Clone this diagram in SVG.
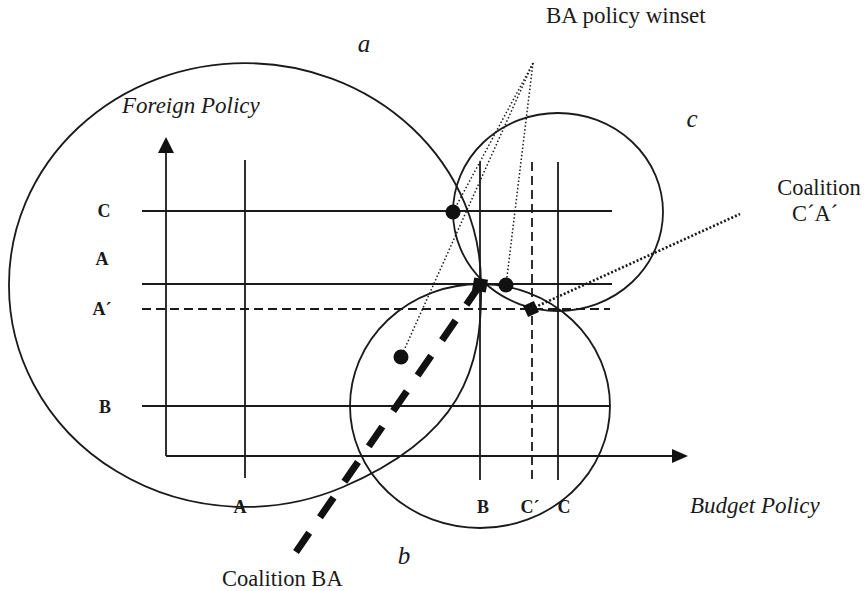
<svg xmlns="http://www.w3.org/2000/svg" width="865" height="591" viewBox="0 0 865 591">
<style>
  .ln { stroke:#1a1a1a; stroke-width:1.8; fill:none; }
  .dsh { stroke:#1a1a1a; stroke-width:1.8; fill:none; stroke-dasharray:9 5; }
  .dot { stroke:#1a1a1a; stroke-width:1.5; fill:none; stroke-dasharray:1.5 2.2; }
  .dotb { stroke:#1a1a1a; stroke-width:2.6; fill:none; stroke-dasharray:2 2; }
  .coal { stroke:#111; stroke-width:7; fill:none; stroke-dasharray:24 19; }
  .pt { fill:#111; }
  text { font-family:"Liberation Serif","Times New Roman",serif; fill:#1a1a1a; }
  .lab { font-size:18px; font-weight:bold; text-anchor:middle; }
  .it { font-style:italic; }
</style>
<rect width="865" height="591" fill="#ffffff"/>

<g id="axes">
  <line class="ln" x1="166" y1="456" x2="166" y2="152"/>
  <polygon class="pt" points="166,137 158,153 174,153"/>
  <line class="ln" x1="166" y1="456" x2="673" y2="456"/>
  <polygon class="pt" points="688,456 672,449 672,463"/>
  <text class="it" x="122" y="113" font-size="23">Foreign Policy</text>
  <text class="it" x="690" y="513" font-size="23">Budget Policy</text>
</g>

<g id="grid">
  <line class="ln" x1="142" y1="211" x2="612" y2="211"/>
  <line class="ln" x1="142" y1="284" x2="612" y2="284"/>
  <line class="dsh" x1="142" y1="309" x2="610" y2="309"/>
  <line class="ln" x1="142" y1="406" x2="610" y2="406"/>
  <line class="ln" x1="245" y1="160" x2="245" y2="478"/>
  <line class="ln" x1="480" y1="162" x2="480" y2="480"/>
  <line class="dsh" x1="532" y1="162" x2="532" y2="482"/>
  <line class="ln" x1="558" y1="162" x2="558" y2="480"/>
  <text class="lab" x="104" y="217">C</text>
  <text class="lab" x="102" y="265">A</text>
  <text class="lab" x="102" y="315">A´</text>
  <text class="lab" x="105" y="413">B</text>
  <text class="lab" x="240" y="513">A</text>
  <text class="lab" x="483" y="513">B</text>
  <text class="lab" x="530" y="513">C´</text>
  <text class="lab" x="564" y="513">C</text>
</g>

<g id="circle-a">
  <path class="ln" d="M481,284 A236 221 0 0 0 9,284 A236 221 0 0 0 343,487 C460,437 483,370 481,284 Z"/>
  <text class="it" x="364" y="52" font-size="25" text-anchor="middle">a</text>
</g>

<g id="circle-b">
  <ellipse class="ln" cx="480" cy="406" rx="130" ry="122"/>
  <text class="it" x="404" y="564" font-size="25" text-anchor="middle">b</text>
</g>

<g id="circle-c">
  <ellipse class="ln" cx="558" cy="212" rx="105" ry="99"/>
  <text class="it" x="692" y="127" font-size="25" text-anchor="middle">c</text>
</g>

<g id="connectors">
  <line class="dot" x1="533" y1="63" x2="401" y2="357"/>
  <line class="dot" x1="533" y1="63" x2="453" y2="212"/>
  <line class="dot" x1="533" y1="63" x2="506" y2="285"/>
  <line class="dotb" x1="531" y1="309" x2="740" y2="214"/>
  <line class="coal" x1="480" y1="285" x2="296" y2="552"/>
</g>

<g id="points">
  <circle class="pt" cx="453" cy="212" r="7.5"/>
  <circle class="pt" cx="506" cy="285" r="7.5"/>
  <circle class="pt" cx="401" cy="357" r="7.5"/>
  <rect class="pt" x="-7" y="-6.5" width="14" height="13" transform="translate(480,285) rotate(10)"/>
  <rect class="pt" x="-6" y="-6" width="12" height="12" transform="translate(531,309) rotate(-25)"/>
</g>

<g id="label-winset">
  <text x="546" y="23" font-size="23">BA policy winset</text>
</g>
<g id="label-coalition-ca">
  <text x="819" y="195" font-size="22.5" text-anchor="middle">Coalition</text>
  <text x="815" y="221" font-size="22.5" text-anchor="middle">C´A´</text>
</g>
<g id="label-coalition-ba">
  <text x="222" y="586" font-size="22.5">Coalition BA</text>
</g>
</svg>
